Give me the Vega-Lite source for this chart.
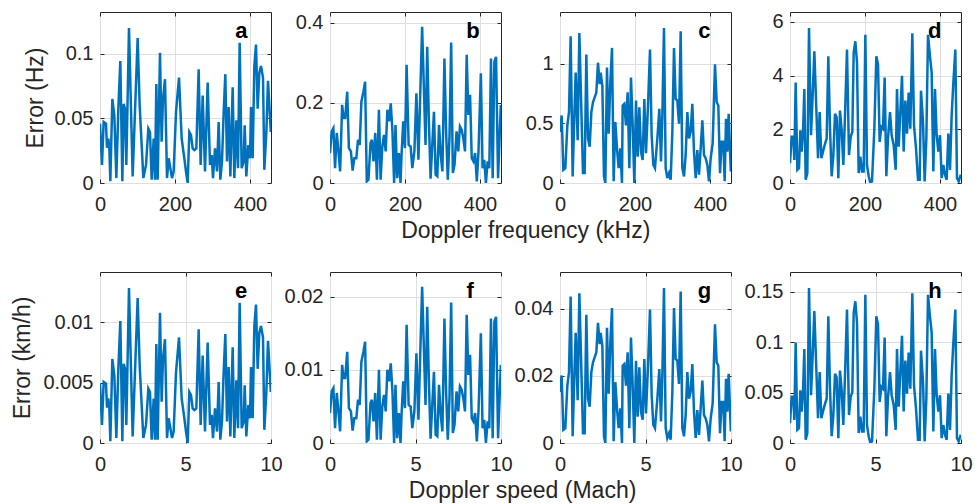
{
"$schema":"https://vega.github.io/schema/vega-lite/v6.json",
"padding":{"left":10,"top":11,"right":5,"bottom":2},
"datasets":{
"ae":[{"f":0,"hz":0.0459,"m":0,"kmh":0.00492},{"f":5.3,"hz":0.014,"m":0.116,"kmh":0.0015},{"f":9.8,"hz":0.0472,"m":0.215,"kmh":0.00506},{"f":16,"hz":0.0459,"m":0.351,"kmh":0.00492},{"f":18.7,"hz":0.0273,"m":0.41,"kmh":0.00293},{"f":22.2,"hz":0.0344,"m":0.487,"kmh":0.00369},{"f":24.9,"hz":0.0268,"m":0.546,"kmh":0.00287},{"f":27.6,"hz":0.0013,"m":0.605,"kmh":0.00014},{"f":32.9,"hz":0.065,"m":0.721,"kmh":0.00697},{"f":38.2,"hz":0.0523,"m":0.838,"kmh":0.00561},{"f":43.6,"hz":0.0038,"m":0.956,"kmh":0.00041},{"f":48.9,"hz":0.0574,"m":1.072,"kmh":0.00615},{"f":54.2,"hz":0.0944,"m":1.189,"kmh":0.01012},{"f":59.6,"hz":0.0013,"m":1.307,"kmh":0.00014},{"f":63.1,"hz":0.0612,"m":1.384,"kmh":0.00656},{"f":66.7,"hz":0.0574,"m":1.463,"kmh":0.00615},{"f":70.2,"hz":0.014,"m":1.539,"kmh":0.0015},{"f":77.3,"hz":0.1199,"m":1.695,"kmh":0.01285},{"f":87.1,"hz":0.0051,"m":1.91,"kmh":0.00055},{"f":100.4,"hz":0.1122,"m":2.202,"kmh":0.01203},{"f":105.8,"hz":0.0599,"m":2.32,"kmh":0.00642},{"f":115.6,"hz":0.0038,"m":2.535,"kmh":0.00041},{"f":122.7,"hz":0.014,"m":2.691,"kmh":0.0015},{"f":128.9,"hz":0.0421,"m":2.827,"kmh":0.00451},{"f":133.3,"hz":0.0395,"m":2.923,"kmh":0.00423},{"f":137.8,"hz":0.0026,"m":3.022,"kmh":0.00028},{"f":143.1,"hz":0.0344,"m":3.138,"kmh":0.00369},{"f":146.7,"hz":0.0026,"m":3.217,"kmh":0.00028},{"f":150.2,"hz":0.0765,"m":3.294,"kmh":0.0082},{"f":153.8,"hz":0.0026,"m":3.373,"kmh":0.00028},{"f":160,"hz":0.1007,"m":3.509,"kmh":0.0108},{"f":164.4,"hz":0.0319,"m":3.605,"kmh":0.00342},{"f":168,"hz":0.065,"m":3.684,"kmh":0.00697},{"f":173.3,"hz":0.0803,"m":3.8,"kmh":0.00861},{"f":178.7,"hz":0.0038,"m":3.919,"kmh":0.00041},{"f":183.1,"hz":0.0191,"m":4.015,"kmh":0.00205},{"f":187.6,"hz":0.0115,"m":4.114,"kmh":0.00123},{"f":192,"hz":0.0038,"m":4.211,"kmh":0.00041},{"f":196.4,"hz":0.0089,"m":4.307,"kmh":0.00095},{"f":202.7,"hz":0.0548,"m":4.445,"kmh":0.00587},{"f":210.7,"hz":0.0816,"m":4.621,"kmh":0.00875},{"f":217.8,"hz":0.0344,"m":4.776,"kmh":0.00369},{"f":224.9,"hz":0.0191,"m":4.932,"kmh":0.00205},{"f":229.3,"hz":0.0089,"m":5.029,"kmh":0.00095},{"f":233.8,"hz":0,"m":5.127,"kmh":0},{"f":238.2,"hz":0.0395,"m":5.224,"kmh":0.00423},{"f":242.7,"hz":0.037,"m":5.322,"kmh":0.00397},{"f":247.1,"hz":0.0268,"m":5.419,"kmh":0.00287},{"f":251.6,"hz":0.0255,"m":5.518,"kmh":0.00273},{"f":256.9,"hz":0.0268,"m":5.634,"kmh":0.00287},{"f":263.1,"hz":0.088,"m":5.77,"kmh":0.00943},{"f":268.4,"hz":0.014,"m":5.886,"kmh":0.0015},{"f":273.8,"hz":0.0676,"m":6.004,"kmh":0.00725},{"f":280,"hz":0.0089,"m":6.14,"kmh":0.00095},{"f":287.1,"hz":0.0778,"m":6.296,"kmh":0.00834},{"f":293.3,"hz":0.014,"m":6.432,"kmh":0.0015},{"f":297.8,"hz":0.0217,"m":6.531,"kmh":0.00233},{"f":301.3,"hz":0.0038,"m":6.607,"kmh":0.00041},{"f":306.7,"hz":0.0268,"m":6.726,"kmh":0.00287},{"f":312,"hz":0.0089,"m":6.842,"kmh":0.00095},{"f":316.4,"hz":0.0472,"m":6.939,"kmh":0.00506},{"f":320.9,"hz":0.0026,"m":7.037,"kmh":0.00028},{"f":325.3,"hz":0.0166,"m":7.134,"kmh":0.00178},{"f":329.8,"hz":0.0548,"m":7.232,"kmh":0.00587},{"f":334.2,"hz":0.0842,"m":7.329,"kmh":0.00903},{"f":338.7,"hz":0.0166,"m":7.428,"kmh":0.00178},{"f":343.1,"hz":0.0587,"m":7.524,"kmh":0.00629},{"f":347.6,"hz":0.0051,"m":7.623,"kmh":0.00055},{"f":353.8,"hz":0.074,"m":7.759,"kmh":0.00793},{"f":358.2,"hz":0.0038,"m":7.855,"kmh":0.00041},{"f":363.6,"hz":0.0485,"m":7.974,"kmh":0.0052},{"f":368,"hz":0.0115,"m":8.07,"kmh":0.00123},{"f":372.4,"hz":0.1084,"m":8.167,"kmh":0.01162},{"f":377.8,"hz":0.0115,"m":8.285,"kmh":0.00123},{"f":383.1,"hz":0.0166,"m":8.401,"kmh":0.00178},{"f":385.8,"hz":0.0446,"m":8.461,"kmh":0.00478},{"f":390.2,"hz":0.0051,"m":8.557,"kmh":0.00055},{"f":395.6,"hz":0.0293,"m":8.675,"kmh":0.00314},{"f":400,"hz":0.0191,"m":8.772,"kmh":0.00205},{"f":402.7,"hz":0.0587,"m":8.831,"kmh":0.00629},{"f":407.1,"hz":0.0191,"m":8.928,"kmh":0.00205},{"f":411.6,"hz":0.0905,"m":9.026,"kmh":0.0097},{"f":416,"hz":0.1071,"m":9.123,"kmh":0.01148},{"f":420.4,"hz":0.0574,"m":9.219,"kmh":0.00615},{"f":424.9,"hz":0.0854,"m":9.318,"kmh":0.00915},{"f":429.3,"hz":0.0905,"m":9.414,"kmh":0.0097},{"f":434.7,"hz":0.0816,"m":9.533,"kmh":0.00875},{"f":438.2,"hz":0.0102,"m":9.61,"kmh":0.00109},{"f":443.6,"hz":0.0395,"m":9.728,"kmh":0.00423},{"f":448,"hz":0.0791,"m":9.825,"kmh":0.00848},{"f":455.5,"hz":0.0395,"m":9.99,"kmh":0.00423}],
"bf":[{"f":0,"hz":0.0747,"m":0,"kmh":0.00409},{"f":4.5,"hz":0.129,"m":0.099,"kmh":0.00707},{"f":9,"hz":0.137,"m":0.197,"kmh":0.00751},{"f":13.5,"hz":0.037,"m":0.296,"kmh":0.00203},{"f":18,"hz":0.125,"m":0.395,"kmh":0.00685},{"f":22.5,"hz":0.079,"m":0.493,"kmh":0.00433},{"f":27,"hz":0.029,"m":0.592,"kmh":0.00159},{"f":32.4,"hz":0.195,"m":0.711,"kmh":0.01069},{"f":36,"hz":0.162,"m":0.789,"kmh":0.00888},{"f":40.5,"hz":0.162,"m":0.888,"kmh":0.00888},{"f":45.9,"hz":0.228,"m":1.007,"kmh":0.01249},{"f":50.4,"hz":0.087,"m":1.105,"kmh":0.00477},{"f":55.8,"hz":0.079,"m":1.224,"kmh":0.00433},{"f":60.3,"hz":0.031,"m":1.322,"kmh":0.0017},{"f":64.8,"hz":0.062,"m":1.421,"kmh":0.0034},{"f":70.2,"hz":0.062,"m":1.539,"kmh":0.0034},{"f":74.7,"hz":0.108,"m":1.638,"kmh":0.00592},{"f":79.2,"hz":0.095,"m":1.737,"kmh":0.00521},{"f":83.7,"hz":0.203,"m":1.836,"kmh":0.01112},{"f":89.1,"hz":0.228,"m":1.954,"kmh":0.01249},{"f":93.6,"hz":0.253,"m":2.053,"kmh":0.01386},{"f":98.1,"hz":0.004,"m":2.151,"kmh":0.00022},{"f":102.6,"hz":0.008,"m":2.25,"kmh":0.00044},{"f":108,"hz":0.1,"m":2.368,"kmh":0.00548},{"f":111.6,"hz":0.108,"m":2.447,"kmh":0.00592},{"f":116.1,"hz":0.054,"m":2.546,"kmh":0.00296},{"f":120.6,"hz":0.125,"m":2.645,"kmh":0.00685},{"f":125.1,"hz":0.008,"m":2.743,"kmh":0.00044},{"f":130.5,"hz":0.183,"m":2.862,"kmh":0.01003},{"f":135,"hz":0.008,"m":2.961,"kmh":0.00044},{"f":139.5,"hz":0.091,"m":3.059,"kmh":0.00499},{"f":144,"hz":0.12,"m":3.158,"kmh":0.00658},{"f":148.5,"hz":0.079,"m":3.257,"kmh":0.00433},{"f":153,"hz":0.183,"m":3.355,"kmh":0.01003},{"f":157.5,"hz":0.154,"m":3.454,"kmh":0.00844},{"f":162,"hz":0.199,"m":3.553,"kmh":0.01091},{"f":166.5,"hz":0.129,"m":3.651,"kmh":0.00707},{"f":171,"hz":0,"m":3.75,"kmh":0},{"f":174.6,"hz":0.145,"m":3.829,"kmh":0.00795},{"f":179.1,"hz":0.012,"m":3.928,"kmh":0.00066},{"f":183.6,"hz":0.075,"m":4.026,"kmh":0.00411},{"f":188.1,"hz":0,"m":4.125,"kmh":0},{"f":190.8,"hz":0.071,"m":4.184,"kmh":0.00389},{"f":195.3,"hz":0.154,"m":4.283,"kmh":0.00844},{"f":199.8,"hz":0.087,"m":4.382,"kmh":0.00477},{"f":204.3,"hz":0.295,"m":4.48,"kmh":0.01617},{"f":209.7,"hz":0.095,"m":4.599,"kmh":0.00521},{"f":215.1,"hz":0.091,"m":4.717,"kmh":0.00499},{"f":219.5,"hz":0.037,"m":4.814,"kmh":0.00203},{"f":225,"hz":0.079,"m":4.934,"kmh":0.00433},{"f":230.4,"hz":0.224,"m":5.053,"kmh":0.01228},{"f":235.8,"hz":0.058,"m":5.171,"kmh":0.00318},{"f":245.7,"hz":0.39,"m":5.388,"kmh":0.02137},{"f":254.7,"hz":0.095,"m":5.586,"kmh":0.00521},{"f":259.2,"hz":0.34,"m":5.684,"kmh":0.01863},{"f":263.7,"hz":0.154,"m":5.783,"kmh":0.00844},{"f":268.2,"hz":0.011,"m":5.882,"kmh":0.0006},{"f":277.2,"hz":0.178,"m":6.079,"kmh":0.00975},{"f":281.7,"hz":0.021,"m":6.178,"kmh":0.00115},{"f":286.2,"hz":0.017,"m":6.276,"kmh":0.00093},{"f":290.7,"hz":0.145,"m":6.375,"kmh":0.00795},{"f":295.2,"hz":0.071,"m":6.474,"kmh":0.00389},{"f":299.7,"hz":0.029,"m":6.572,"kmh":0.00159},{"f":305.1,"hz":0.311,"m":6.691,"kmh":0.01704},{"f":309.6,"hz":0.129,"m":6.789,"kmh":0.00707},{"f":314.1,"hz":0.008,"m":6.888,"kmh":0.00044},{"f":318.6,"hz":0.112,"m":6.987,"kmh":0.00614},{"f":323.1,"hz":0.351,"m":7.086,"kmh":0.01923},{"f":327.6,"hz":0.025,"m":7.184,"kmh":0.00137},{"f":332.1,"hz":0.046,"m":7.283,"kmh":0.00252},{"f":337.5,"hz":0.129,"m":7.401,"kmh":0.00707},{"f":342,"hz":0.079,"m":7.5,"kmh":0.00433},{"f":346.5,"hz":0.141,"m":7.599,"kmh":0.00773},{"f":351,"hz":0.133,"m":7.697,"kmh":0.00729},{"f":355.5,"hz":0.112,"m":7.796,"kmh":0.00614},{"f":360,"hz":0.079,"m":7.895,"kmh":0.00433},{"f":364.5,"hz":0.32,"m":7.993,"kmh":0.01754},{"f":369,"hz":0.17,"m":8.092,"kmh":0.00932},{"f":373.5,"hz":0.22,"m":8.191,"kmh":0.01206},{"f":378,"hz":0.062,"m":8.289,"kmh":0.0034},{"f":382.5,"hz":0.054,"m":8.388,"kmh":0.00296},{"f":387,"hz":0.075,"m":8.487,"kmh":0.00411},{"f":391.5,"hz":0.004,"m":8.586,"kmh":0.00022},{"f":396,"hz":0.079,"m":8.684,"kmh":0.00433},{"f":402.3,"hz":0.274,"m":8.822,"kmh":0.01502},{"f":406.8,"hz":0.037,"m":8.921,"kmh":0.00203},{"f":411.3,"hz":0.058,"m":9.02,"kmh":0.00318},{"f":415.8,"hz":0,"m":9.118,"kmh":0},{"f":420.3,"hz":0.054,"m":9.217,"kmh":0.00296},{"f":424.8,"hz":0.037,"m":9.316,"kmh":0.00203},{"f":429.3,"hz":0.311,"m":9.414,"kmh":0.01704},{"f":433.8,"hz":0.012,"m":9.513,"kmh":0.00066},{"f":438.3,"hz":0.303,"m":9.612,"kmh":0.0166},{"f":442.8,"hz":0.315,"m":9.711,"kmh":0.01726},{"f":448.2,"hz":0.012,"m":9.829,"kmh":0.00066},{"f":455.5,"hz":0.195,"m":9.99,"kmh":0.01069}],
"cg":[{"f":0,"hz":0.428,"m":0,"kmh":0.0152},{"f":4.4,"hz":0.566,"m":0.096,"kmh":0.0201},{"f":8.9,"hz":0.11,"m":0.195,"kmh":0.0039},{"f":14.2,"hz":0.124,"m":0.311,"kmh":0.0044},{"f":19.6,"hz":0.483,"m":0.43,"kmh":0.0171},{"f":24,"hz":0.594,"m":0.526,"kmh":0.0211},{"f":28.4,"hz":1.229,"m":0.623,"kmh":0.0436},{"f":33.8,"hz":0.055,"m":0.741,"kmh":0.002},{"f":38.2,"hz":0.566,"m":0.838,"kmh":0.0201},{"f":41.8,"hz":0.925,"m":0.917,"kmh":0.0328},{"f":47.1,"hz":0.359,"m":1.033,"kmh":0.0127},{"f":51.6,"hz":1.257,"m":1.132,"kmh":0.0446},{"f":56.9,"hz":0.621,"m":1.248,"kmh":0.022},{"f":61.3,"hz":0.083,"m":1.344,"kmh":0.0029},{"f":65.8,"hz":0.083,"m":1.443,"kmh":0.0029},{"f":70.2,"hz":1.077,"m":1.539,"kmh":0.0382},{"f":74.7,"hz":0.373,"m":1.638,"kmh":0.0132},{"f":79.1,"hz":0.304,"m":1.735,"kmh":0.0108},{"f":83.6,"hz":0.594,"m":1.833,"kmh":0.0211},{"f":88,"hz":0.677,"m":1.93,"kmh":0.024},{"f":92.4,"hz":0.718,"m":2.026,"kmh":0.0255},{"f":96.9,"hz":0.76,"m":2.125,"kmh":0.027},{"f":101.3,"hz":1.008,"m":2.221,"kmh":0.0358},{"f":105.8,"hz":0.829,"m":2.32,"kmh":0.0294},{"f":108.4,"hz":0.925,"m":2.377,"kmh":0.0328},{"f":112.9,"hz":0.815,"m":2.476,"kmh":0.0289},{"f":117.3,"hz":0.055,"m":2.572,"kmh":0.002},{"f":120.9,"hz":0,"m":2.651,"kmh":0},{"f":125.3,"hz":0.967,"m":2.748,"kmh":0.0343},{"f":129.8,"hz":0.414,"m":2.846,"kmh":0.0147},{"f":134.2,"hz":0.842,"m":2.943,"kmh":0.0299},{"f":138.7,"hz":1.132,"m":3.042,"kmh":0.0402},{"f":143.1,"hz":0.014,"m":3.138,"kmh":0.0005},{"f":147.6,"hz":0.511,"m":3.237,"kmh":0.0181},{"f":152,"hz":0.29,"m":3.333,"kmh":0.0103},{"f":156.4,"hz":0.124,"m":3.43,"kmh":0.0044},{"f":160.9,"hz":0.29,"m":3.529,"kmh":0.0103},{"f":165.3,"hz":0,"m":3.625,"kmh":0},{"f":167.1,"hz":0.649,"m":3.664,"kmh":0.023},{"f":171.5,"hz":0.663,"m":3.761,"kmh":0.0235},{"f":176,"hz":0.483,"m":3.86,"kmh":0.0171},{"f":180.4,"hz":0.76,"m":3.956,"kmh":0.027},{"f":184.9,"hz":0.124,"m":4.055,"kmh":0.0044},{"f":189.3,"hz":0.884,"m":4.151,"kmh":0.0314},{"f":193.8,"hz":0.483,"m":4.25,"kmh":0.0171},{"f":198.2,"hz":0,"m":4.346,"kmh":0},{"f":202.7,"hz":0.691,"m":4.445,"kmh":0.0245},{"f":207.1,"hz":0.221,"m":4.542,"kmh":0.0078},{"f":211.6,"hz":0.635,"m":4.64,"kmh":0.0225},{"f":216,"hz":0.262,"m":4.737,"kmh":0.0093},{"f":220.4,"hz":0.193,"m":4.833,"kmh":0.0069},{"f":224.9,"hz":0.704,"m":4.932,"kmh":0.025},{"f":229.3,"hz":0.249,"m":5.029,"kmh":0.0088},{"f":234.7,"hz":0.649,"m":5.147,"kmh":0.023},{"f":240,"hz":1.119,"m":5.263,"kmh":0.0397},{"f":244.4,"hz":0.4,"m":5.36,"kmh":0.0142},{"f":248.9,"hz":0.152,"m":5.458,"kmh":0.0054},{"f":253.3,"hz":0.124,"m":5.555,"kmh":0.0044},{"f":259.6,"hz":0.373,"m":5.693,"kmh":0.0132},{"f":264.9,"hz":0.621,"m":5.809,"kmh":0.022},{"f":269.3,"hz":0.18,"m":5.906,"kmh":0.0064},{"f":272.9,"hz":0.566,"m":5.985,"kmh":0.0201},{"f":277.3,"hz":1.298,"m":6.081,"kmh":0.0461},{"f":281.8,"hz":0.124,"m":6.18,"kmh":0.0044},{"f":286.2,"hz":0.041,"m":6.276,"kmh":0.0015},{"f":290.7,"hz":0.083,"m":6.375,"kmh":0.0029},{"f":295.1,"hz":0.028,"m":6.471,"kmh":0.001},{"f":299.6,"hz":0.428,"m":6.57,"kmh":0.0152},{"f":304,"hz":1.132,"m":6.667,"kmh":0.0402},{"f":308.4,"hz":0.704,"m":6.763,"kmh":0.025},{"f":312.9,"hz":0.691,"m":6.862,"kmh":0.0245},{"f":317.3,"hz":0.497,"m":6.958,"kmh":0.0176},{"f":321.8,"hz":1.271,"m":7.057,"kmh":0.0451},{"f":326.2,"hz":0.124,"m":7.154,"kmh":0.0044},{"f":330.7,"hz":0.055,"m":7.252,"kmh":0.002},{"f":335.1,"hz":0.235,"m":7.349,"kmh":0.0083},{"f":339.6,"hz":0.594,"m":7.447,"kmh":0.0211},{"f":344,"hz":0.373,"m":7.544,"kmh":0.0132},{"f":348.4,"hz":0.428,"m":7.64,"kmh":0.0152},{"f":352.9,"hz":0.663,"m":7.739,"kmh":0.0235},{"f":357.3,"hz":0.262,"m":7.836,"kmh":0.0093},{"f":361.8,"hz":0.041,"m":7.934,"kmh":0.0015},{"f":366.2,"hz":0.276,"m":8.031,"kmh":0.0098},{"f":370.7,"hz":0.069,"m":8.129,"kmh":0.0024},{"f":375.1,"hz":0.29,"m":8.226,"kmh":0.0103},{"f":379.6,"hz":0.525,"m":8.325,"kmh":0.0186},{"f":384,"hz":0.235,"m":8.421,"kmh":0.0083},{"f":388.4,"hz":0.207,"m":8.518,"kmh":0.0073},{"f":392.9,"hz":0.152,"m":8.616,"kmh":0.0054},{"f":397.3,"hz":0.014,"m":8.713,"kmh":0.0005},{"f":401.8,"hz":0.207,"m":8.811,"kmh":0.0073},{"f":407.1,"hz":0.331,"m":8.928,"kmh":0.0118},{"f":413.3,"hz":0.994,"m":9.064,"kmh":0.0353},{"f":417.8,"hz":0.677,"m":9.162,"kmh":0.024},{"f":422.2,"hz":0.649,"m":9.259,"kmh":0.023},{"f":426.7,"hz":0.083,"m":9.357,"kmh":0.0029},{"f":431.1,"hz":0.345,"m":9.454,"kmh":0.0122},{"f":435.6,"hz":0.345,"m":9.553,"kmh":0.0122},{"f":439.1,"hz":0.014,"m":9.629,"kmh":0.0005},{"f":442.7,"hz":0.539,"m":9.708,"kmh":0.0191},{"f":446.2,"hz":0.262,"m":9.785,"kmh":0.0093},{"f":449.8,"hz":0.58,"m":9.864,"kmh":0.0206},{"f":455.5,"hz":0.097,"m":9.99,"kmh":0.0034}],
"dh":[{"f":0,"hz":0.74,"m":0,"kmh":0.0197},{"f":4.4,"hz":1.72,"m":0.096,"kmh":0.0458},{"f":8.9,"hz":1.72,"m":0.195,"kmh":0.0458},{"f":11.6,"hz":0.86,"m":0.254,"kmh":0.0229},{"f":15.1,"hz":3.74,"m":0.331,"kmh":0.0996},{"f":19.6,"hz":0.49,"m":0.43,"kmh":0.013},{"f":24,"hz":0.55,"m":0.526,"kmh":0.0146},{"f":27.6,"hz":1.96,"m":0.605,"kmh":0.0522},{"f":31.1,"hz":1.17,"m":0.682,"kmh":0.0312},{"f":34.7,"hz":1.9,"m":0.761,"kmh":0.0506},{"f":38.2,"hz":3.5,"m":0.838,"kmh":0.0932},{"f":41.8,"hz":0.12,"m":0.917,"kmh":0.0032},{"f":46.2,"hz":0.37,"m":1.013,"kmh":0.0099},{"f":50.7,"hz":5.77,"m":1.112,"kmh":0.1537},{"f":56,"hz":1.78,"m":1.228,"kmh":0.0474},{"f":60.4,"hz":3.25,"m":1.325,"kmh":0.0865},{"f":64.9,"hz":4.91,"m":1.423,"kmh":0.1308},{"f":70.2,"hz":2.76,"m":1.539,"kmh":0.0735},{"f":74.7,"hz":0.92,"m":1.638,"kmh":0.0245},{"f":79.1,"hz":2.64,"m":1.735,"kmh":0.0703},{"f":83.6,"hz":0.92,"m":1.833,"kmh":0.0245},{"f":88,"hz":1.17,"m":1.93,"kmh":0.0312},{"f":92.4,"hz":1.41,"m":2.026,"kmh":0.0375},{"f":97.8,"hz":1.66,"m":2.145,"kmh":0.0442},{"f":102.2,"hz":4.72,"m":2.241,"kmh":0.1257},{"f":106.7,"hz":2.02,"m":2.34,"kmh":0.0538},{"f":111.1,"hz":0.25,"m":2.436,"kmh":0.0067},{"f":115.6,"hz":1.04,"m":2.535,"kmh":0.0277},{"f":120,"hz":2.58,"m":2.632,"kmh":0.0687},{"f":124.4,"hz":2.45,"m":2.728,"kmh":0.0652},{"f":128.9,"hz":0.18,"m":2.827,"kmh":0.0048},{"f":133.3,"hz":2.7,"m":2.923,"kmh":0.0719},{"f":137.8,"hz":1.96,"m":3.022,"kmh":0.0522},{"f":142.2,"hz":0.67,"m":3.118,"kmh":0.0178},{"f":146.7,"hz":2.52,"m":3.217,"kmh":0.0671},{"f":152,"hz":4.97,"m":3.333,"kmh":0.1324},{"f":157.3,"hz":1.04,"m":3.45,"kmh":0.0277},{"f":161.8,"hz":1.72,"m":3.548,"kmh":0.0458},{"f":166.2,"hz":1.9,"m":3.645,"kmh":0.0506},{"f":169.8,"hz":4.85,"m":3.724,"kmh":0.1292},{"f":174.2,"hz":5.28,"m":3.82,"kmh":0.1406},{"f":178.7,"hz":4.48,"m":3.919,"kmh":0.1193},{"f":183.1,"hz":0.37,"m":4.015,"kmh":0.0099},{"f":187.6,"hz":0.98,"m":4.114,"kmh":0.0261},{"f":192,"hz":0.43,"m":4.211,"kmh":0.0115},{"f":196.4,"hz":0.43,"m":4.307,"kmh":0.0115},{"f":200.9,"hz":5.52,"m":4.406,"kmh":0.147},{"f":205.3,"hz":0.67,"m":4.502,"kmh":0.0178},{"f":209.8,"hz":0.25,"m":4.601,"kmh":0.0067},{"f":214.2,"hz":0,"m":4.697,"kmh":0},{"f":218.7,"hz":0.06,"m":4.796,"kmh":0.0016},{"f":224.9,"hz":2.02,"m":4.932,"kmh":0.0538},{"f":230.2,"hz":4.72,"m":5.048,"kmh":0.1257},{"f":234.7,"hz":4.42,"m":5.147,"kmh":0.1177},{"f":239.1,"hz":1.53,"m":5.243,"kmh":0.0407},{"f":243.6,"hz":2.09,"m":5.342,"kmh":0.0557},{"f":248,"hz":2.02,"m":5.439,"kmh":0.0538},{"f":252.4,"hz":3.93,"m":5.535,"kmh":0.1047},{"f":256.9,"hz":0.25,"m":5.634,"kmh":0.0067},{"f":261.3,"hz":1.66,"m":5.73,"kmh":0.0442},{"f":266.7,"hz":2.64,"m":5.849,"kmh":0.0703},{"f":271.1,"hz":1.78,"m":5.945,"kmh":0.0474},{"f":276.5,"hz":1.41,"m":6.064,"kmh":0.0375},{"f":281.8,"hz":0.49,"m":6.18,"kmh":0.013},{"f":285.3,"hz":3.5,"m":6.257,"kmh":0.0932},{"f":289.8,"hz":1.35,"m":6.355,"kmh":0.036},{"f":294.2,"hz":2.64,"m":6.452,"kmh":0.0703},{"f":298.7,"hz":3.99,"m":6.55,"kmh":0.1063},{"f":303.1,"hz":1.17,"m":6.647,"kmh":0.0312},{"f":307.6,"hz":3.07,"m":6.746,"kmh":0.0818},{"f":312,"hz":1.84,"m":6.842,"kmh":0.049},{"f":316.4,"hz":3.37,"m":6.939,"kmh":0.0897},{"f":320.9,"hz":2.02,"m":7.037,"kmh":0.0538},{"f":326.2,"hz":5.58,"m":7.154,"kmh":0.1486},{"f":330.7,"hz":2.15,"m":7.252,"kmh":0.0573},{"f":336,"hz":1.29,"m":7.368,"kmh":0.0344},{"f":341.3,"hz":0.12,"m":7.485,"kmh":0.0032},{"f":345.8,"hz":0.12,"m":7.583,"kmh":0.0032},{"f":349.3,"hz":3.44,"m":7.66,"kmh":0.0916},{"f":354.7,"hz":2.27,"m":7.779,"kmh":0.0605},{"f":359.1,"hz":0.06,"m":7.875,"kmh":0.0016},{"f":363.6,"hz":1.66,"m":7.974,"kmh":0.0442},{"f":368,"hz":5.52,"m":8.07,"kmh":0.147},{"f":373.3,"hz":4.72,"m":8.186,"kmh":0.1257},{"f":377.8,"hz":4.11,"m":8.285,"kmh":0.1094},{"f":382.2,"hz":0.43,"m":8.382,"kmh":0.0115},{"f":386.7,"hz":3.5,"m":8.48,"kmh":0.0932},{"f":391.1,"hz":1.78,"m":8.577,"kmh":0.0474},{"f":395.6,"hz":1.17,"m":8.675,"kmh":0.0312},{"f":400,"hz":1.78,"m":8.772,"kmh":0.0474},{"f":404.4,"hz":0.18,"m":8.868,"kmh":0.0048},{"f":408.9,"hz":0.67,"m":8.967,"kmh":0.0178},{"f":413.3,"hz":0.31,"m":9.064,"kmh":0.0083},{"f":417.8,"hz":0.12,"m":9.162,"kmh":0.0032},{"f":422.2,"hz":1.84,"m":9.259,"kmh":0.049},{"f":426.7,"hz":0.49,"m":9.357,"kmh":0.013},{"f":431.1,"hz":2.52,"m":9.454,"kmh":0.0671},{"f":435.6,"hz":3.74,"m":9.553,"kmh":0.0996},{"f":440.9,"hz":4.97,"m":9.669,"kmh":0.1324},{"f":445.3,"hz":0.18,"m":9.765,"kmh":0.0048},{"f":449.8,"hz":0.06,"m":9.864,"kmh":0.0016},{"f":455.5,"hz":0.31,"m":9.99,"kmh":0.0083}]
},
"config":{
"font":"Liberation Sans",
"view":{"stroke":"#262626","strokeWidth":1},
"axis":{"domain":false,"grid":true,"gridColor":"#dfdfdf","gridWidth":1,"tickColor":"#262626","tickSize":-4,"tickWidth":1,"labelFont":"Liberation Sans","labelFontSize":20,"labelColor":"#262626","labelFlush":false,"labelOverlap":false,"titleFont":"Liberation Sans","titleFontSize":23,"titleFontWeight":"normal","titleColor":"#262626","format":"~r"},
"axisX":{"labelPadding":15},
"axisY":{"labelPadding":11},
"title":{"font":"Liberation Sans","fontSize":23,"fontWeight":"normal","color":"#262626"}
},
"spacing":28,
"vconcat":[
{"hconcat":[
{"width":171,"height":171,"data":{"name":"ae"},"resolve":{"axis":{"x":"independent","y":"independent"}},"layer":[
{"mark":{"type":"line","color":"#0072BD","strokeWidth":2.5,"clip":true},"encoding":{"x":{"field":"f","type":"quantitative","scale":{"domain":[0,456],"nice":false,"zero":false},"axis":{"orient":"bottom","values":[0,200,400],"title":null}},"y":{"field":"hz","type":"quantitative","scale":{"domain":[0,0.1323],"nice":false},"axis":{"orient":"left","values":[0,0.05,0.1],"title":"Error (Hz)","minExtent":52,"maxExtent":52,"titlePadding":1}}}},
{"data":{"values":[{}]},"mark":{"type":"text","text":"a","fontSize":22,"fontWeight":"bold","color":"#000000","align":"center","baseline":"alphabetic"},"encoding":{"x":{"datum":377,"type":"quantitative","scale":{"domain":[0,456],"nice":false,"zero":false},"axis":{"orient":"top","values":[0,200,400],"labels":false,"grid":false,"title":null}},"y":{"datum":0.1125,"type":"quantitative","scale":{"domain":[0,0.1323],"nice":false},"axis":{"orient":"right","values":[0,0.05,0.1],"labels":false,"grid":false,"title":null}}}}]},
{"width":171,"height":171,"data":{"name":"bf"},"resolve":{"axis":{"x":"independent","y":"independent"}},"layer":[
{"mark":{"type":"line","color":"#0072BD","strokeWidth":2.5,"clip":true},"encoding":{"x":{"field":"f","type":"quantitative","scale":{"domain":[0,456],"nice":false,"zero":false},"axis":{"orient":"bottom","values":[0,200,400],"title":null}},"y":{"field":"hz","type":"quantitative","scale":{"domain":[0,0.427],"nice":false},"axis":{"orient":"left","values":[0,0.2,0.4],"title":null}}}},
{"data":{"values":[{}]},"mark":{"type":"text","text":"b","fontSize":22,"fontWeight":"bold","color":"#000000","align":"center","baseline":"alphabetic"},"encoding":{"x":{"datum":381,"type":"quantitative","scale":{"domain":[0,456],"nice":false,"zero":false},"axis":{"orient":"top","values":[0,200,400],"labels":false,"grid":false,"title":null}},"y":{"datum":0.363,"type":"quantitative","scale":{"domain":[0,0.427],"nice":false},"axis":{"orient":"right","values":[0,0.2,0.4],"labels":false,"grid":false,"title":null}}}}]},
{"width":171,"height":171,"data":{"name":"cg"},"resolve":{"axis":{"x":"independent","y":"independent"}},"layer":[
{"mark":{"type":"line","color":"#0072BD","strokeWidth":2.5,"clip":true},"encoding":{"x":{"field":"f","type":"quantitative","scale":{"domain":[0,456],"nice":false,"zero":false},"axis":{"orient":"bottom","values":[0,200,400],"title":null}},"y":{"field":"hz","type":"quantitative","scale":{"domain":[0,1.433],"nice":false},"axis":{"orient":"left","values":[0,0.5,1],"title":null}}}},
{"data":{"values":[{}]},"mark":{"type":"text","text":"c","fontSize":22,"fontWeight":"bold","color":"#000000","align":"center","baseline":"alphabetic"},"encoding":{"x":{"datum":385,"type":"quantitative","scale":{"domain":[0,456],"nice":false,"zero":false},"axis":{"orient":"top","values":[0,200,400],"labels":false,"grid":false,"title":null}},"y":{"datum":1.218,"type":"quantitative","scale":{"domain":[0,1.433],"nice":false},"axis":{"orient":"right","values":[0,0.5,1],"labels":false,"grid":false,"title":null}}}}]},
{"width":171,"height":171,"data":{"name":"dh"},"resolve":{"axis":{"x":"independent","y":"independent"}},"layer":[
{"mark":{"type":"line","color":"#0072BD","strokeWidth":2.5,"clip":true},"encoding":{"x":{"field":"f","type":"quantitative","scale":{"domain":[0,456],"nice":false,"zero":false},"axis":{"orient":"bottom","values":[0,200,400],"title":null}},"y":{"field":"hz","type":"quantitative","scale":{"domain":[0,6.37],"nice":false},"axis":{"orient":"left","values":[0,2,4,6],"title":null}}}},
{"data":{"values":[{}]},"mark":{"type":"text","text":"d","fontSize":22,"fontWeight":"bold","color":"#000000","align":"center","baseline":"alphabetic"},"encoding":{"x":{"datum":386,"type":"quantitative","scale":{"domain":[0,456],"nice":false,"zero":false},"axis":{"orient":"top","values":[0,200,400],"labels":false,"grid":false,"title":null}},"y":{"datum":5.41,"type":"quantitative","scale":{"domain":[0,6.37],"nice":false},"axis":{"orient":"right","values":[0,2,4,6],"labels":false,"grid":false,"title":null}}}}]}
],"spacing":59,"bounds":"flush","title":{"text":"Doppler frequency (kHz)","orient":"bottom","anchor":"middle","offset":5,"dx":33}},
{"hconcat":[
{"width":171,"height":171,"data":{"name":"ae"},"resolve":{"axis":{"x":"independent","y":"independent"}},"layer":[
{"mark":{"type":"line","color":"#0072BD","strokeWidth":2.5,"clip":true},"encoding":{"x":{"field":"m","type":"quantitative","scale":{"domain":[0,10],"nice":false,"zero":false},"axis":{"orient":"bottom","values":[0,5,10],"title":null}},"y":{"field":"kmh","type":"quantitative","scale":{"domain":[0,0.01418],"nice":false},"axis":{"orient":"left","values":[0,0.005,0.01],"title":"Error (km/h)","minExtent":55,"maxExtent":55,"titlePadding":11}}}},
{"data":{"values":[{}]},"mark":{"type":"text","text":"e","fontSize":22,"fontWeight":"bold","color":"#000000","align":"center","baseline":"alphabetic"},"encoding":{"x":{"datum":8.25,"type":"quantitative","scale":{"domain":[0,10],"nice":false,"zero":false},"axis":{"orient":"top","values":[0,5,10],"labels":false,"grid":false,"title":null}},"y":{"datum":0.01205,"type":"quantitative","scale":{"domain":[0,0.01418],"nice":false},"axis":{"orient":"right","values":[0,0.005,0.01],"labels":false,"grid":false,"title":null}}}}]},
{"width":171,"height":171,"data":{"name":"bf"},"resolve":{"axis":{"x":"independent","y":"independent"}},"layer":[
{"mark":{"type":"line","color":"#0072BD","strokeWidth":2.5,"clip":true},"encoding":{"x":{"field":"m","type":"quantitative","scale":{"domain":[0,10],"nice":false,"zero":false},"axis":{"orient":"bottom","values":[0,5,10],"title":null}},"y":{"field":"kmh","type":"quantitative","scale":{"domain":[0,0.0234],"nice":false},"axis":{"orient":"left","values":[0,0.01,0.02],"title":null}}}},
{"data":{"values":[{}]},"mark":{"type":"text","text":"f","fontSize":22,"fontWeight":"bold","color":"#000000","align":"center","baseline":"alphabetic"},"encoding":{"x":{"datum":8.2,"type":"quantitative","scale":{"domain":[0,10],"nice":false,"zero":false},"axis":{"orient":"top","values":[0,5,10],"labels":false,"grid":false,"title":null}},"y":{"datum":0.0199,"type":"quantitative","scale":{"domain":[0,0.0234],"nice":false},"axis":{"orient":"right","values":[0,0.01,0.02],"labels":false,"grid":false,"title":null}}}}]},
{"width":171,"height":171,"data":{"name":"cg"},"resolve":{"axis":{"x":"independent","y":"independent"}},"layer":[
{"mark":{"type":"line","color":"#0072BD","strokeWidth":2.5,"clip":true},"encoding":{"x":{"field":"m","type":"quantitative","scale":{"domain":[0,10],"nice":false,"zero":false},"axis":{"orient":"bottom","values":[0,5,10],"title":null}},"y":{"field":"kmh","type":"quantitative","scale":{"domain":[0,0.0509],"nice":false},"axis":{"orient":"left","values":[0,0.02,0.04],"title":null}}}},
{"data":{"values":[{}]},"mark":{"type":"text","text":"g","fontSize":22,"fontWeight":"bold","color":"#000000","align":"center","baseline":"alphabetic"},"encoding":{"x":{"datum":8.45,"type":"quantitative","scale":{"domain":[0,10],"nice":false,"zero":false},"axis":{"orient":"top","values":[0,5,10],"labels":false,"grid":false,"title":null}},"y":{"datum":0.0433,"type":"quantitative","scale":{"domain":[0,0.0509],"nice":false},"axis":{"orient":"right","values":[0,0.02,0.04],"labels":false,"grid":false,"title":null}}}}]},
{"width":171,"height":171,"data":{"name":"dh"},"resolve":{"axis":{"x":"independent","y":"independent"}},"layer":[
{"mark":{"type":"line","color":"#0072BD","strokeWidth":2.5,"clip":true},"encoding":{"x":{"field":"m","type":"quantitative","scale":{"domain":[0,10],"nice":false,"zero":false},"axis":{"orient":"bottom","values":[0,5,10],"title":null}},"y":{"field":"kmh","type":"quantitative","scale":{"domain":[0,0.1696],"nice":false},"axis":{"orient":"left","values":[0,0.05,0.1,0.15],"title":null}}}},
{"data":{"values":[{}]},"mark":{"type":"text","text":"h","fontSize":22,"fontWeight":"bold","color":"#000000","align":"center","baseline":"alphabetic"},"encoding":{"x":{"datum":8.48,"type":"quantitative","scale":{"domain":[0,10],"nice":false,"zero":false},"axis":{"orient":"top","values":[0,5,10],"labels":false,"grid":false,"title":null}},"y":{"datum":0.1442,"type":"quantitative","scale":{"domain":[0,0.1696],"nice":false},"axis":{"orient":"right","values":[0,0.05,0.1,0.15],"labels":false,"grid":false,"title":null}}}}]}
],"spacing":59,"bounds":"flush","title":{"text":"Doppler speed (Mach)","orient":"bottom","anchor":"middle","offset":5,"dx":31}}
]
}
